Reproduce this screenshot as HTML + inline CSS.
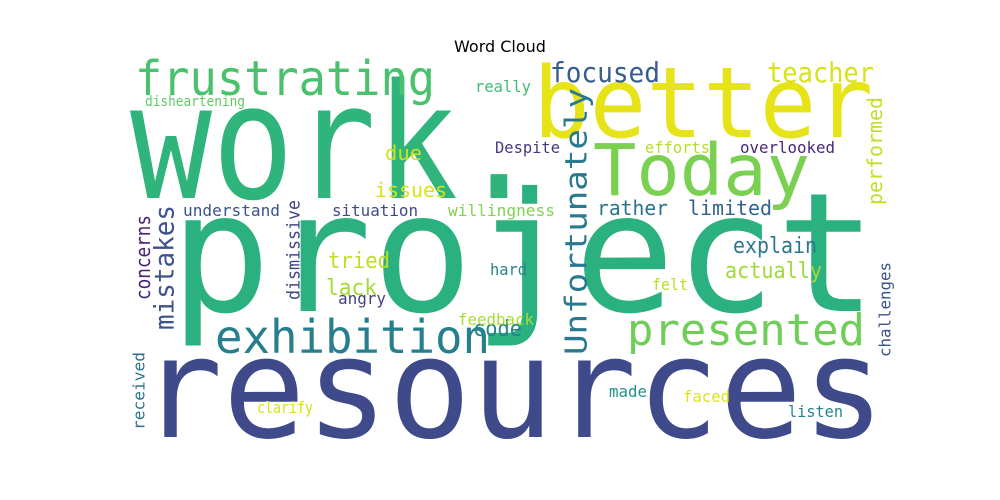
<!DOCTYPE html>
<html><head><meta charset="utf-8"><style>
html,body{margin:0;padding:0;background:#fff;}
svg{display:block;}
text{font-family:"DejaVu Sans Mono","Liberation Mono",monospace;}
</style></head><body>
<svg id="c" width="1000" height="500" viewBox="0 0 1000 500">
<text x="500" y="52" text-anchor="middle" style="font-family:'DejaVu Sans','Liberation Sans',sans-serif;font-size:16px" fill="#000">Word Cloud</text>
<g id="words"></g>
</svg>
<script>
// word, x-left, baseline, font size, width, colour, vertical
const words = ["work.","project","resources","better","Today","frustrating","focused","teacher","exhibition","presented","really","disheartening","due","efforts","Despite","overlooked","issues","understand","situation","willingness","rather","limited","explain","tried","actually","hard","lack","angry","code","felt","feedback","made","faced","listen","clarify","Unfortunately","mistakes","concerns","dismissive","performed","challenges","received"];
const layout = [
[130,198,160,410,"#2fb47c",0],[170,311,166,707,"#2bb07f",0],[140,437,140,745,"#3e4a89",0],
[533,137,98,340,"#e6e419",0],[593,195,71,217,"#7ad151",0],[135,95,48,300,"#4ac16d",0],
[550,82,28,110,"#365d8d",0],[767,82,28,107,"#d8e219",0],[215,353,46,275,"#277f8e",0],
[627,345,44,238,"#6ece58",0],[475,92,16,56,"#3dbc74",0],[145,106,14,100,"#5ec962",0],
[385,160,20,37,"#d0e11c",0],[645,153,16,65,"#b5de2b",0],[495,153,16,65,"#443983",0],
[740,153,16,95,"#482878",0],[375,197,20,72,"#d8e219",0],[183,216,16,97,"#3b528b",0],
[332,216,16,86,"#3e4989",0],[448,216,16,107,"#7fd34e",0],[597,215,20,71,"#2c728e",0],
[688,215,20,84,"#33638d",0],[733,253,22,84,"#2a788e",0],[328,268,22,62,"#bddf26",0],
[725,278,22,97,"#a0da39",0],[490,275,16,37,"#26828e",0],[326,295,22,51,"#a5db36",0],
[338,304,16,48,"#433e85",0],[473,336,22,49,"#25848e",0],[652,290,16,36,"#b8de29",0],
[458,325,16,76,"#a8db34",0],[609,397,16,38,"#21918c",0],[683,402,16,47,"#dde318",0],
[788,417,16,55,"#26828e",0],[257,413,16,56,"#d2e21b",0],
[577,355,30,267,"#297a8e",1],[165,330,27,125,"#3b528b",1],[143,300,20,85,"#482475",1],
[294,300,18,100,"#404688",1],[875,205,20,108,"#c2df23",1],[885,357,16,95,"#3b528b",1],
[139,430,16,78,"#2c728e",1]
];
const g = document.getElementById('words');
const NS = "http://www.w3.org/2000/svg";
words.forEach((w,i)=>{
  const [x,y,s,wd,col,v] = layout[i];
  const t = document.createElementNS(NS,'text');
  t.textContent = w;
  t.setAttribute('font-size', s);
  t.setAttribute('fill', col);
  t.setAttribute('textLength', wd);
  t.setAttribute('lengthAdjust','spacingAndGlyphs');
  if(v){
    t.setAttribute('dominant-baseline','central');
    t.setAttribute('transform','translate('+x+','+y+') rotate(-90)');
  } else {
    t.setAttribute('x', x);
    t.setAttribute('y', y);
  }
  
  
  g.appendChild(t);
});
</script>
</body></html>
